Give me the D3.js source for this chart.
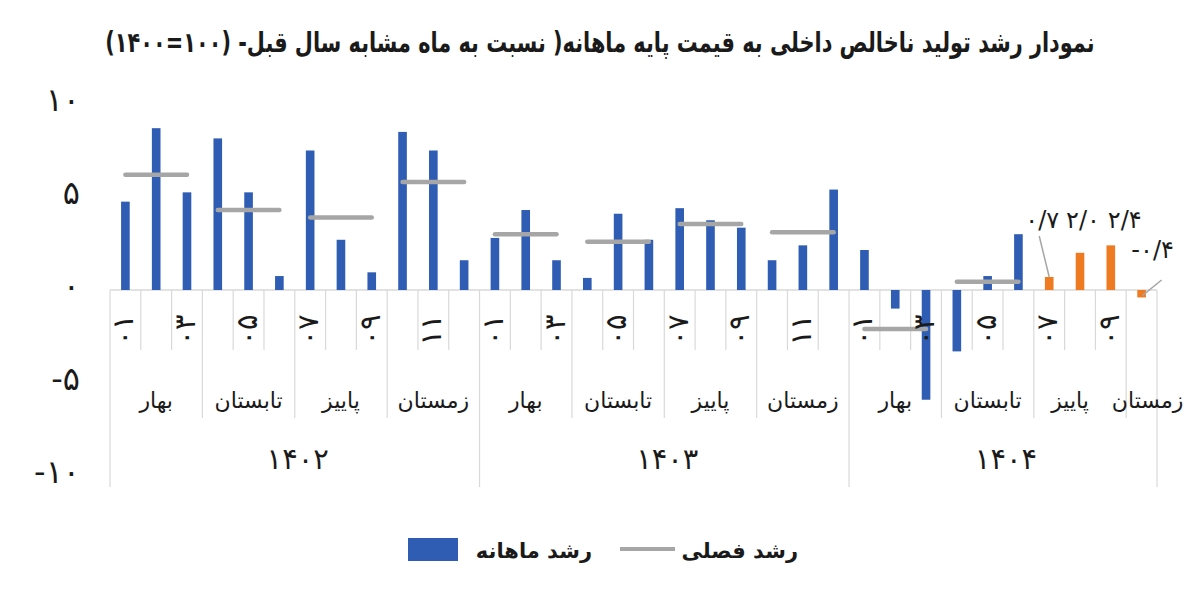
<!DOCTYPE html>
<html><head><meta charset="utf-8">
<script src="https://cdn.jsdelivr.net/npm/d3@7"></script>
<style>
html,body{margin:0;padding:0;background:#fff;}
svg{display:block;font-family:"DejaVu Sans",sans-serif;}
</style></head>
<body>
<svg id="chart" width="1200" height="604"></svg>
<script>
// ---------------- data ----------------
const titleText = "نمودار رشد تولید ناخالص داخلی به قیمت پایه ماهانه( نسبت به ماه مشابه سال قبل- (۱۰۰=۱۴۰۰)";
const years = ["۱۴۰۲", "۱۴۰۳", "۱۴۰۴"];
const seasons = ["بهار", "تابستان", "پاییز", "زمستان"];
const monthLabels = ["۰۱","۰۲","۰۳","۰۴","۰۵","۰۶","۰۷","۰۸","۰۹","۱۰","۱۱","۱۲"];
const yTicks = [-10, -5, 0, 5, 10];
const monthly1402 = [4.75, 8.7, 5.25, 8.15, 5.25, 0.75, 7.5, 2.7, 0.95, 8.5, 7.5, 1.6];
const monthly1403 = [2.8, 4.3, 1.6, 0.65, 4.1, 2.7, 4.4, 3.75, 3.35, 1.6, 2.4, 5.4];
const monthly1404 = [2.15, -1.0, -5.9, -3.3, 0.75, 3.0, 0.7, 2.0, 2.4, -0.4];
const preliminary1404 = [false, false, false, false, false, false, true, true, true, true];
const seasonal1402 = [6.2, 4.3, 3.9, 5.8];
const seasonal1403 = [3.0, 2.6, 3.55, 3.1];
const seasonal1404 = [-2.1, 0.45, null, null];
const legendMonthly = "رشد ماهانه";
const legendSeasonal = "رشد فصلی";

// ---------------- build ----------------
const monthlyByYear = [monthly1402, monthly1403, monthly1404];
const seasonalByYear = [seasonal1402, seasonal1403, seasonal1404];
const prelimByYear = [monthly1402.map(() => false), monthly1403.map(() => false), preliminary1404];

const rows = [];
monthlyByYear.forEach((arr, yi) => arr.forEach((v, mi) => {
  rows.push({idx: rows.length, yi, mi, si: Math.floor(mi / 3), v,
             prelim: prelimByYear[yi][mi], s: seasonalByYear[yi][Math.floor(mi / 3)]});
}));

const fa = s => String(s).replace(/[0-9]/g, d => "۰۱۲۳۴۵۶۷۸۹"[+d]).replace(".", "/");
const blue = "#2F5DB3", orange = "#EE7B22", gray = "#A6A6A6", sep = "#D9D9D9", ink = "#1a1a1a";

const svg = d3.select("#chart");
const x = d3.scaleBand().domain(rows.map(d => d.idx)).range([110, 1157]).paddingInner(0.72).paddingOuter(0.36);
const step = x.step();
const y = d3.scaleLinear().domain([-10, 10]).range([476, 104]);
const cx = i => x(i) + x.bandwidth() / 2;
const left = i => x(i) - x.paddingOuter() * step; // start of category cell

// title (fit horizontally to the reference width)
const tg = svg.append("g");
const tt = tg.append("text").attr("x", 0).attr("y", 0)
  .attr("direction", "rtl").attr("text-anchor", "middle")
  .attr("font-size", 28).attr("font-weight", "bold").attr("fill", ink)
  .text(titleText);
const tw = tt.node().getComputedTextLength();
tg.attr("transform", `translate(600,52) scale(${990 / tw},1)`);

// axis baseline
svg.append("line").attr("x1", 110).attr("x2", 1157).attr("y1", y(0)).attr("y2", y(0))
  .attr("stroke", sep).attr("stroke-width", 1.5);

// category separators
const gSep = svg.append("g").attr("stroke", sep).attr("stroke-width", 1.2);
rows.forEach(d => {
  let len = 350;
  if (d.mi === 0) len = 487; else if (d.mi % 3 === 0) len = 418;
  gSep.append("line").attr("x1", left(d.idx)).attr("x2", left(d.idx)).attr("y1", y(0)).attr("y2", len);
});
gSep.append("line").attr("x1", 1157).attr("x2", 1157).attr("y1", y(0)).attr("y2", 487);

// bars
svg.append("g").selectAll("rect").data(rows).join("rect")
  .attr("x", d => x(d.idx)).attr("width", x.bandwidth())
  .attr("y", d => y(Math.max(0, d.v)))
  .attr("height", d => Math.abs(y(d.v) - y(0)))
  .attr("fill", d => d.prelim ? orange : blue);

// seasonal lines
const line = d3.line().x(d => cx(d.idx)).y(d => y(d.s));
const groups = d3.groups(rows.filter(d => d.s != null), d => d.yi + "-" + d.si);
svg.append("g").selectAll("path").data(groups).join("path")
  .attr("d", g => line(g[1])).attr("fill", "none")
  .attr("stroke", gray).attr("stroke-width", 4.5).attr("stroke-linecap", "round");

// y axis
const yAxis = d3.axisLeft(y).tickValues(yTicks).tickSize(0).tickPadding(0)
  .tickFormat(v => (v < 0 ? "-" : "") + fa(Math.abs(v)));
const gy = svg.append("g").attr("transform", "translate(80,-4)").call(yAxis);
gy.select(".domain").remove();
gy.selectAll("text").attr("font-family", "DejaVu Sans").attr("font-size", 32)
  .attr("fill", ink).attr("letter-spacing", 7);

// month labels (every other)
svg.append("g").selectAll("text").data(rows.filter(d => d.mi % 2 === 0)).join("text")
  .attr("transform", d => `translate(${cx(d.idx) - 2},330) rotate(-90)`)
  .attr("text-anchor", "middle").attr("dominant-baseline", "central")
  .attr("font-size", 29).attr("letter-spacing", 4).attr("fill", ink)
  .text(d => monthLabels[d.mi]);

// season labels
const seasonGroups = d3.groups(rows, d => d.yi + "-" + d.si).map(([k, g]) => ({
  name: seasons[g[0].si], c: (left(g[0].idx) + left(g[g.length - 1].idx) + step) / 2, n: g.length}));
svg.append("g").selectAll("text").data(seasonGroups).join("text")
  .attr("x", d => d.n < 3 ? d.c + 6 : (d.name === "پاییز" && d.c > 1000 ? d.c - 10 : d.c))
  .attr("y", 408).attr("text-anchor", "middle")
  .attr("direction", "rtl").attr("font-size", 22).attr("fill", ink)
  .text(d => d.name);

// year labels
const yearGroups = d3.groups(rows, d => d.yi).map(([k, g]) => ({
  name: years[k], c: (left(g[0].idx) + left(g[g.length - 1].idx) + step) / 2}));
svg.append("g").selectAll("text").data(yearGroups).join("text")
  .attr("x", d => d.c + 3).attr("y", 469).attr("text-anchor", "middle")
  .attr("font-size", 29).attr("letter-spacing", 6).attr("fill", ink)
  .text(d => d.name);

// data labels for preliminary months
const labelOffsets = [[-7, -57, true], [3, -33, false], [14, -25, false], [11, -40, true]];
const prelimRows = rows.filter(d => d.prelim);
const gLab = svg.append("g");
prelimRows.forEach((d, i) => {
  const [dx, dy, leader] = labelOffsets[i];
  const top = y(Math.max(0, d.v));
  const lx = cx(d.idx) + dx, ly = top + dy;
  if (leader) {
    const ty = d.v >= 0 ? top : y(d.v) - 2;
    gLab.append("line").attr("x1", d.v >= 0 ? lx - 3 : lx + 9).attr("y1", d.v >= 0 ? ly + 16 : ly + 30)
      .attr("x2", cx(d.idx) + (d.v >= 0 ? 0 : 1)).attr("y2", ty)
      .attr("stroke", gray).attr("stroke-width", 1.5);
  }
  gLab.append("text").attr("x", lx).attr("y", ly).attr("text-anchor", "middle")
    .attr("dominant-baseline", "central").attr("font-size", 24).attr("fill", ink)
    .text((d.v < 0 ? "-" : "") + fa(Math.abs(d.v).toFixed(1)));
});

// legend
const lg = svg.append("g");
lg.append("rect").attr("x", 408).attr("y", 538).attr("width", 50).attr("height", 23).attr("fill", blue);
lg.append("text").attr("x", 592).attr("y", 558).attr("text-anchor", "end")
  .attr("font-size", 21).attr("font-weight", "bold").attr("fill", ink).text(legendMonthly);
lg.append("line").attr("x1", 620).attr("x2", 675).attr("y1", 549).attr("y2", 549)
  .attr("stroke", gray).attr("stroke-width", 4);
lg.append("text").attr("x", 798).attr("y", 558).attr("text-anchor", "end")
  .attr("font-size", 21).attr("font-weight", "bold").attr("fill", ink).text(legendSeasonal);
</script>
</body></html>
